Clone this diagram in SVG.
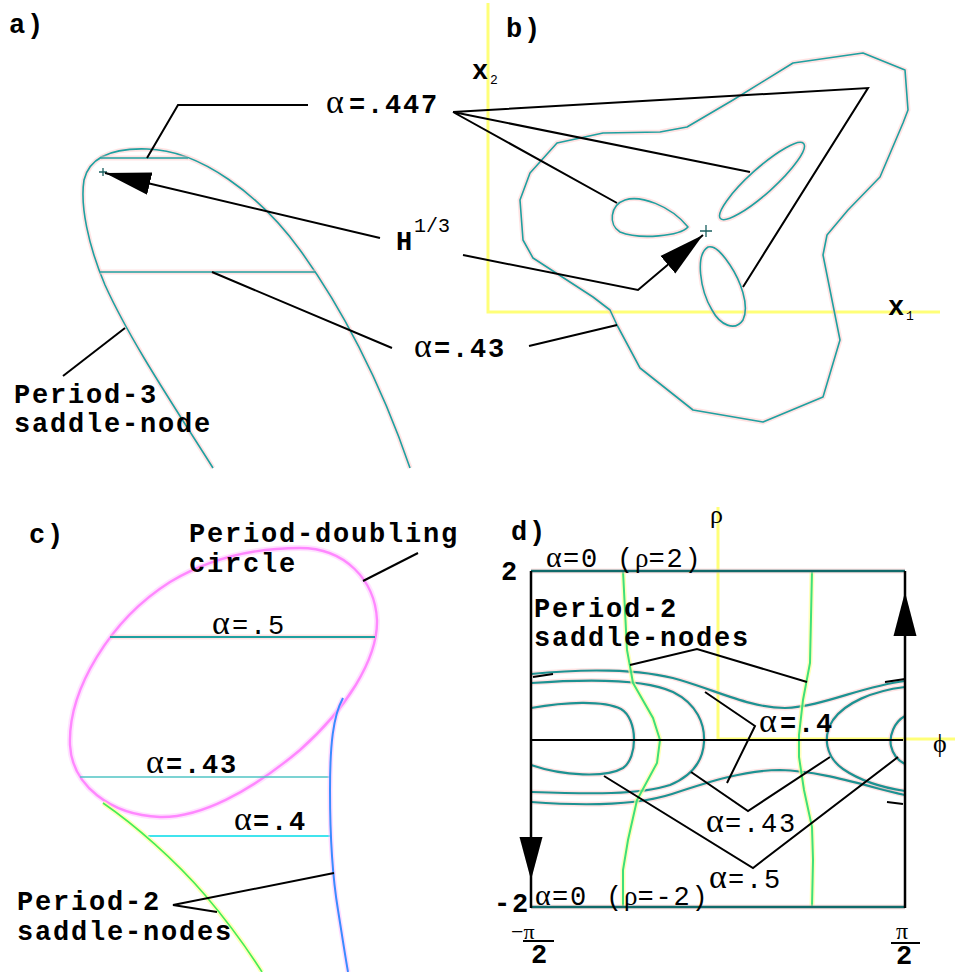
<svg xmlns="http://www.w3.org/2000/svg" width="955" height="972" viewBox="0 0 955 972">
<style>
.t{font-family:"Liberation Mono","DejaVu Sans Mono",monospace;font-weight:bold;font-size:27px;letter-spacing:1.8px;fill:#000}
.n{font-weight:normal}
.g{font-family:"Liberation Serif","DejaVu Serif",serif;font-weight:normal;font-size:34px;letter-spacing:0}
.s{font-size:13px;font-weight:normal;letter-spacing:0}
.sup{font-size:20px;font-weight:normal;letter-spacing:0}
.ld{fill:none;stroke:#000;stroke-width:2}
.halo{fill:none;stroke:#ffc0c0;stroke-width:5;stroke-opacity:.45;stroke-linejoin:round}
.tl{fill:none;stroke:#1fa0a0;stroke-width:1.6;stroke-linejoin:round}
.tl2{fill:none;stroke:#1d9292;stroke-width:2.2;stroke-linejoin:round}
.ax{fill:none;stroke:#ffff78;stroke-width:3}
.grn{fill:none;stroke:#3ee07a;stroke-width:2}
.yh{fill:none;stroke:#ffffa0;stroke-width:5;stroke-opacity:.7}
</style>
<defs>
<marker id="ah" markerUnits="userSpaceOnUse" markerWidth="48" markerHeight="24" viewBox="0 0 48 24" refX="46" refY="12" orient="auto">
<path d="M0,0.5 L46,12 L0,23.5 z" fill="#000"/>
</marker>
<path id="pa" d="M213,468 C 170,400 130,340 105,285 C 88,245 80,205 84,180 C 90,155 115,148 147,149 C 200,150 260,195 300,250 C 340,305 380,380 410,468"/>
<path id="pa1" d="M101,158 H188"/>
<path id="pa2" d="M100,272 H315"/>
<path id="pb" d="M863,53 L905,70 L908,110 L903,123 L880,177 L848,210 L827,235 L823,255 L833,305 L840,340 L823,397 L763,422 L693,410 L640,368 L617,325 L610,310 L593,297 L533,258 L523,240 L520,200 L530,173 L557,143 L603,133 L660,132 L687,127 L733,100 L793,63 Z"/>
<path id="pb1" d="M688,227 C 670,205 640,195 625,200 C 610,205 608,225 620,232 C 640,240 680,236 688,227 Z"/>
<ellipse id="pb2" cx="762" cy="181" rx="56" ry="12.5" transform="rotate(-42 762 181)"/>
<path id="pb3" d="M708,247 C 695,255 700,290 712,310 C 720,325 735,332 743,320 C 750,305 740,280 730,265 C 722,253 715,245 708,247 Z"/>
<path id="pd1" d="M531,674 C 580,669 640,668 680,680 C 720,692 752,708 785,708 C 822,707 862,686 905,681"/>
<path id="pd2" d="M531,802 C 585,806 635,806 672,794 C 708,782 745,770 780,770 C 822,771 865,786 905,795"/>
<path id="pd3" d="M531,683 C 600,678 648,680 673,692 C 697,704 705,724 704,742 C 703,760 694,775 670,785 C 640,795 590,794 531,792"/>
<path id="pd4" d="M531,708 C 565,702 603,700 621,709 C 638,719 638,758 623,768 C 606,778 563,776 531,765"/>
<path id="pd5" d="M905,687 C 872,691 845,703 833,720 C 822,737 826,757 843,769 C 862,782 885,788 905,791"/>
<path id="pd6" d="M905,716 C 894,722 889,736 891,746 C 893,755 899,761 905,764"/>
<path id="pd7" d="M531,571 H905"/>
<path id="pd8" d="M531,907 H905"/>
<path id="gd1" d="M623,571 L627,650 L633,683 L653,718 L660,740 L657,763 L637,800 L628,840 L623,870 L623,907"/>
<path id="gd2" d="M812,571 L810,663 L803,700 L799,735 L799,757 L804,790 L812,827 L813,860 L812,907"/>
</defs>

<g id="panel-a">
<use href="#pa" class="halo"/><use href="#pa" class="tl"/>
<use href="#pa1" class="halo"/><use href="#pa1" class="tl"/>
<use href="#pa2" class="halo"/><use href="#pa2" class="tl"/>
<path d="M99,172 H107 M103,168 V176" stroke="#1a6060" stroke-width="1.3" fill="none"/>
</g>

<g id="panel-b">
<path class="ax" d="M488,3 V312 H940"/>
<use href="#pb" class="halo"/><use href="#pb" class="tl"/>
<use href="#pb1" class="halo"/><use href="#pb1" class="tl"/>
<use href="#pb2" class="halo"/><use href="#pb2" class="tl"/>
<use href="#pb3" class="halo"/><use href="#pb3" class="tl"/>
<path d="M700,231 H712 M706,225 V237" stroke="#1a6060" stroke-width="1.3" fill="none"/>
</g>

<g id="panel-c">
<path d="M300,548 C 345,548 375,580 377,620 C 378,660 345,710 300,750 C 250,792 200,818 160,817 C 110,815 72,785 70,745 C 68,690 110,620 170,582 C 215,555 260,548 300,548 Z" fill="none" stroke="#ffd0ff" stroke-width="6" stroke-opacity=".6"/>
<path d="M300,548 C 345,548 375,580 377,620 C 378,660 345,710 300,750 C 250,792 200,818 160,817 C 110,815 72,785 70,745 C 68,690 110,620 170,582 C 215,555 260,548 300,548 Z" fill="none" stroke="#ff88ff" stroke-width="2.4"/>
<path d="M110,637 H375" class="halo"/>
<path d="M110,637 H375" stroke="#1fa0a0" stroke-width="1.8"/>
<path d="M80,777 H330" stroke="#50c4c4" stroke-width="1.6"/>
<path d="M148,836 H330" stroke="#40e4ee" stroke-width="1.8"/>
<path d="M343,698 C 333,716 330,745 330,790 C 330,840 333,880 338,910 C 342,935 345,955 348,972" fill="none" stroke="#ffb8ff" stroke-width="5" stroke-opacity=".5"/>
<path d="M343,698 C 333,716 330,745 330,790 C 330,840 333,880 338,910 C 342,935 345,955 348,972" fill="none" stroke="#3a8cff" stroke-width="2"/>
<path d="M103,803 C 135,825 175,860 205,895 C 228,922 248,950 262,972" class="yh"/>
<path d="M103,803 C 135,825 175,860 205,895 C 228,922 248,950 262,972" fill="none" stroke="#44ee55" stroke-width="1.6"/>
</g>

<g id="panel-d">
<path class="ax" d="M718,507 V739 H955"/>
<use href="#pd1" class="halo"/><use href="#pd1" class="tl2"/>
<use href="#pd2" class="halo"/><use href="#pd2" class="tl2"/>
<use href="#pd3" class="halo"/><use href="#pd3" class="tl2"/>
<use href="#pd4" class="halo"/><use href="#pd4" class="tl2"/>
<use href="#pd5" class="halo"/><use href="#pd5" class="tl2"/>
<use href="#pd6" class="halo"/><use href="#pd6" class="tl2"/>
<use href="#gd1" class="yh"/><use href="#gd1" class="grn"/>
<use href="#gd2" class="yh"/><use href="#gd2" class="grn"/>
<use href="#pd7" class="halo"/><use href="#pd7" stroke="#106a6a" stroke-width="2.6"/>
<use href="#pd8" class="halo"/><use href="#pd8" stroke="#106a6a" stroke-width="2.6"/>
<path d="M531,571 V908 M905,571 V908" stroke="#000" stroke-width="2.5" fill="none"/>
<path d="M531,740 H903" stroke="#000" stroke-width="2" fill="none"/>
</g>

<g id="connectors">
<path class="ld" d="M147,158 L178,105 L308,105"/>
<path class="ld" d="M453,112 L868,88 L743,287 M453,112 L750,172 M453,112 L617,203"/>
<path class="ld" d="M380,238 L105,173" marker-end="url(#ah)"/>
<path class="ld" d="M463,255 L638,290 L703,235" marker-end="url(#ah)"/>
<path class="ld" d="M212,272 L392,348 M529,346 L617,325"/>
<path class="ld" d="M63,376 L125,328"/>
<path class="ld" d="M418,553 L363,581"/>
<path class="ld" d="M334,873 L173,905 L217,912"/>
<path class="ld" d="M630,665 L697,649 L807,682"/>
<path class="ld" d="M533,677 L553,674 M885,682 L905,679 M887,802 L903,804"/>
<path class="ld" d="M705,692 L755,726 L727,783"/>
<path class="ld" d="M691,772 L748,811 L830,757"/>
<path class="ld" d="M604,776 L753,868 L898,757"/>
<polygon points="905,592 893.5,636 916.5,636" fill="#000"/>
<polygon points="531,880 519.5,837 542.5,837" fill="#000"/>
<path class="ld" d="M523,941 H554 M891,943 H920"/>
</g>

<g id="label-a"><text class="t" x="9" y="33">a)</text></g>
<g id="label-a447"><text class="t"><tspan class="g" x="326" y="113">α</tspan><tspan x="349">=.447</tspan></text></g>
<g id="label-H"><text class="t" x="396" y="250">H<tspan class="sup" dy="-18">1/3</tspan></text></g>
<g id="label-a43"><text class="t"><tspan class="g" x="414" y="357">α</tspan><tspan x="434">=.43</tspan></text></g>
<g id="label-p3"><text class="t" x="14" y="403">Period-3</text><text class="t" x="14" y="432">saddle-node</text></g>

<g id="label-b"><text class="t" x="506" y="37">b)</text></g>
<g id="label-x2"><text class="t" x="472" y="79">x<tspan class="s" dy="5">2</tspan></text></g>
<g id="label-x1"><text class="t" x="888" y="315">x<tspan class="s" dy="5">1</tspan></text></g>

<g id="label-c"><text class="t" x="29" y="543">c)</text></g>
<g id="label-pd"><text class="t" x="189" y="542">Period-doubling</text><text class="t" x="189" y="572">circle</text></g>
<g id="label-c5"><text class="t n"><tspan class="g" x="212" y="634">α</tspan><tspan x="232">=.5</tspan></text></g>
<g id="label-c43"><text class="t"><tspan class="g" x="146" y="773">α</tspan><tspan x="166">=.43</tspan></text></g>
<g id="label-c4"><text class="t"><tspan class="g" x="234" y="830">α</tspan><tspan x="253">=.4</tspan></text></g>
<g id="label-c-p2"><text class="t" x="17" y="910">Period-2</text><text class="t" x="17" y="940">saddle-nodes</text></g>

<g id="label-d"><text class="t" x="511" y="540">d)</text></g>
<g id="label-rho"><text class="g" x="710" y="523" style="font-size:26px">ρ</text></g>
<g id="label-phi"><text class="g" x="933" y="752" style="font-size:26px">ϕ</text></g>
<g id="label-top"><text class="t n"><tspan class="g" x="546" y="567" style="font-size:30px">α</tspan><tspan x="563">=0 (</tspan><tspan class="g" style="font-size:27px">ρ</tspan><tspan>=2)</tspan></text></g>
<g id="label-2"><text class="t" x="501" y="580">2</text></g>
<g id="label-d-p2"><text class="t" x="534" y="617">Period-2</text><text class="t" x="534" y="646">saddle-nodes</text></g>
<g id="label-d4"><text class="t"><tspan class="g" x="759" y="732">α</tspan><tspan x="780">=.4</tspan></text></g>
<g id="label-d43"><text class="t n"><tspan class="g" x="706" y="832">α</tspan><tspan x="725">=.43</tspan></text></g>
<g id="label-d5"><text class="t n"><tspan class="g" x="709" y="888">α</tspan><tspan x="728">=.5</tspan></text></g>
<g id="label-bot"><text class="t n"><tspan class="g" x="535" y="905" style="font-size:30px">α</tspan><tspan x="552">=0 (</tspan><tspan class="g" style="font-size:27px">ρ</tspan><tspan>=-2)</tspan></text></g>
<g id="label-m2"><text class="t" x="494" y="912">-2</text></g>
<g id="label-mpi2"><text class="g" x="511" y="939" style="font-size:22px">−π</text><text class="t" x="531" y="963">2</text></g>
<g id="label-pi2"><text class="g" x="896" y="939" style="font-size:24px">π</text><text class="t" x="896" y="964">2</text></g>
</svg>
